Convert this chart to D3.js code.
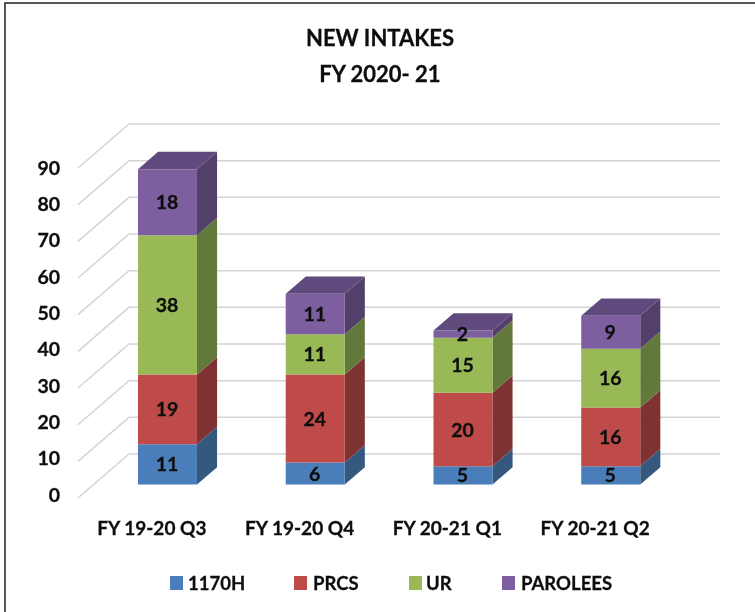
<!DOCTYPE html>
<html>
<head>
<meta charset="utf-8">
<script src="https://cdn.jsdelivr.net/npm/d3@7"></script>
<style>
  html, body { margin: 0; padding: 0; background: #fff; }
  svg { display: block; }
  text { font-family: Lato, "Open Sans", sans-serif; font-weight: 700; fill: #111; stroke: #111; stroke-width: 0.3px; }
</style>
</head>
<body>
<svg id="chart" width="755" height="612"></svg>
<script>
var quarters = ["FY 19-20 Q3", "FY 19-20 Q4", "FY 20-21 Q1", "FY 20-21 Q2"];
var seriesNames = ["1170H", "PRCS", "UR", "PAROLEES"];
var intakes1170H = [11, 6, 5, 5];
var intakesPRCS = [19, 24, 20, 16];
var intakesUR = [38, 11, 15, 16];
var intakesParolees = [18, 11, 2, 9];
var yTicks = [0, 10, 20, 30, 40, 50, 60, 70, 80, 90];
var titleLines = ["NEW INTAKES", "FY 2020- 21"];

var frontColors = ["#4a7ebb", "#be4b48", "#98b954", "#7d5fa0"];
var sideColors = ["#34587f", "#7e3331", "#64793a", "#53406b"];
var topColors = ["#3d6797", "#973b39", "#7a9443", "#604a7b"];

var rows = quarters.map(function(q, i) {
  return { quarter: q, "1170H": intakes1170H[i], PRCS: intakesPRCS[i], UR: intakesUR[i], PAROLEES: intakesParolees[i] };
});
var stacked = d3.stack().keys(seriesNames)(rows);

var root = d3.select("#chart");

// the reference is a soft screenshot, so everything gets a slight blur
root.append("defs").append("filter").attr("id", "soft")
  .attr("x", 0).attr("y", 0).attr("width", 1).attr("height", 1)
  .attr("filterUnits", "userSpaceOnUse")
  .attr("width", 755).attr("height", 612)
  .append("feGaussianBlur").attr("stdDeviation", 0.45);

var svg = root.append("g").attr("filter", "url(#soft)");

// frame of the screenshot: only left and top are dark, and those stay sharp
root.append("path").attr("d", "M5,612V3H755").attr("fill", "none").attr("stroke", "#222").attr("stroke-width", 1.5);

// the floor front-left corner, depth runs towards upper right
var originX = 78, originY = 498, wallDx = 51, wallDy = -44;
var x = d3.scaleBand().domain(quarters).range([originX, originX + 591]);
var y = d3.scaleLinear().domain([0, 90]).range([0, -330]);

var barWidth = 59, depthNear = 0.306, depthFar = 0.70;

function project(px, v, depth) {
  return [px + wallDx * depth, originY + wallDy * depth + y(v)];
}

function poly(points) {
  return d3.line()(points) + "Z";
}

// gridlines: diagonal on the side wall, then along the back wall
var grid = svg.append("g").attr("fill", "none").attr("stroke", "#d4d4d4").attr("stroke-width", 1.5);
yTicks.forEach(function(t) {
  grid.append("path").attr("d", d3.line()([
    project(originX, t, 0),
    project(originX, t, 1),
    project(originX + 591, t, 1)
  ]));
});

// bars, bottom segment first so upper ones cover it
var barsG = svg.append("g");
stacked.forEach(function(layer, s) {
  layer.forEach(function(d) {
    var q = d.data.quarter;
    var cx = x(q) + x.bandwidth() / 2;
    var x0 = cx - barWidth / 2, x1 = cx + barWidth / 2;
    var g = barsG.append("g");
    g.append("path").attr("fill", sideColors[s]).attr("d", poly([
      project(x1, d[0], depthNear), project(x1, d[0], depthFar),
      project(x1, d[1], depthFar), project(x1, d[1], depthNear)
    ]));
    if (s === seriesNames.length - 1) {
      g.append("path").attr("fill", topColors[s]).attr("d", poly([
        project(x0, d[1], depthNear), project(x1, d[1], depthNear),
        project(x1, d[1], depthFar), project(x0, d[1], depthFar)
      ]));
    }
    g.append("path").attr("fill", frontColors[s]).attr("d", poly([
      project(x0, d[0], depthNear), project(x1, d[0], depthNear),
      project(x1, d[1], depthNear), project(x0, d[1], depthNear)
    ]));
  });
});

// data labels
stacked.forEach(function(layer) {
  layer.forEach(function(d) {
    var q = d.data.quarter;
    var cx = x(q) + x.bandwidth() / 2;
    var p = project(cx, (d[0] + d[1]) / 2, depthNear);
    svg.append("text").attr("x", p[0] - 0.5).attr("y", p[1] - 0.5)
      .attr("text-anchor", "middle").attr("dominant-baseline", "central")
      .attr("font-size", 19.5).text(d[1] - d[0]);
  });
});

// y axis labels
var yLabel = d3.scaleLinear().domain([0, 90]).range([494, 167]);
svg.append("g").selectAll("text").data(yTicks).join("text")
  .attr("x", 60).attr("y", function(d) { return yLabel(d); })
  .attr("text-anchor", "end").attr("dominant-baseline", "central")
  .attr("font-size", 19.5).text(function(d) { return d; });

// x axis labels
svg.append("g").selectAll("text").data(quarters).join("text")
  .attr("x", function(d) { return x(d) + x.bandwidth() / 2; }).attr("y", 527.5)
  .attr("text-anchor", "middle").attr("dominant-baseline", "central")
  .attr("font-size", 19).text(function(d) { return d; });

// title
svg.append("g").selectAll("text").data(titleLines).join("text")
  .attr("x", 380).attr("y", function(d, i) { return 37 + i * 36; })
  .attr("text-anchor", "middle").attr("dominant-baseline", "central")
  .attr("font-size", 22).text(function(d) { return d; });

// legend
var legendX = [170, 294, 409, 502];
var legendTextX = [188, 313, 426, 521];
seriesNames.forEach(function(name, i) {
  svg.append("rect").attr("x", legendX[i]).attr("y", 576).attr("width", 13).attr("height", 14)
    .attr("fill", frontColors[i]);
  svg.append("text").attr("x", legendTextX[i]).attr("y", 582.5)
    .attr("dominant-baseline", "central").attr("font-size", 18.5).text(name);
});
</script>
</body>
</html>
